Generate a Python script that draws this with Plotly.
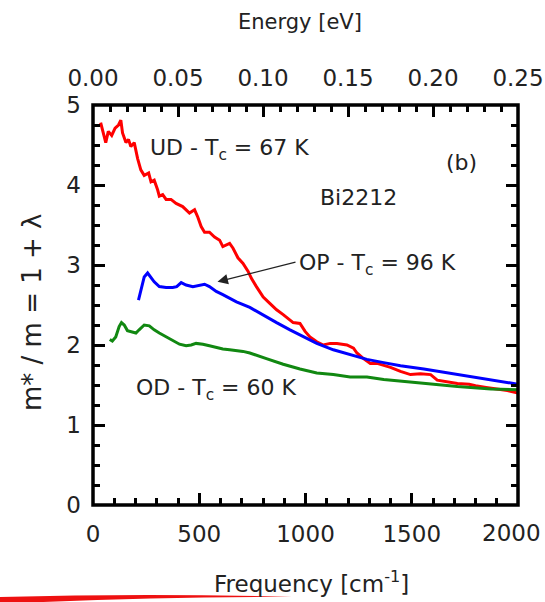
import plotly.graph_objects as go

# ---- data ----
ud_freq = [36, 60, 72, 88, 104, 120, 131, 139, 155, 167, 178, 194, 210, 225, 241, 262, 273, 288,
           304, 312, 328, 344, 367, 391, 422, 454, 478, 493, 509, 525, 548, 572, 596, 611, 643,
           659, 682, 706, 730, 746, 769, 801, 832, 864, 895, 942, 974, 998, 1021, 1053, 1084,
           1116, 1148, 1195, 1226, 1242, 1273, 1305, 1337, 1368, 1400, 1447, 1494, 1541, 1589,
           1620, 1660, 1715, 1770, 1800, 1850, 1900, 1950, 2000]
ud_mass = [4.78, 4.53, 4.67, 4.62, 4.71, 4.75, 4.81, 4.65, 4.53, 4.57, 4.48, 4.53, 4.33, 4.19,
           4.12, 4.15, 4.04, 4.06, 3.94, 3.86, 3.88, 3.82, 3.82, 3.77, 3.73, 3.65, 3.69, 3.60,
           3.48, 3.41, 3.41, 3.35, 3.31, 3.23, 3.27, 3.21, 3.09, 3.02, 2.92, 2.83, 2.73, 2.60,
           2.52, 2.44, 2.38, 2.28, 2.27, 2.17, 2.10, 2.04, 2.00, 2.02, 2.02, 2.00, 1.96, 1.90,
           1.83, 1.77, 1.77, 1.75, 1.72, 1.67, 1.63, 1.64, 1.63, 1.56, 1.54, 1.52, 1.51, 1.49,
           1.47, 1.45, 1.43, 1.40]

op_freq = [214, 225, 241, 257, 273, 288, 312, 344, 375, 394, 415, 438, 470, 501, 525, 548, 580,
           611, 675, 738, 801, 864, 927, 990, 1053, 1131, 1210, 1289, 1368, 1447, 1557, 1715,
           1872, 2000]
op_mass = [2.56, 2.69, 2.85, 2.90, 2.85, 2.79, 2.73, 2.72, 2.72, 2.73, 2.78, 2.75, 2.73, 2.75,
           2.76, 2.73, 2.67, 2.63, 2.54, 2.47, 2.37, 2.28, 2.19, 2.11, 2.02, 1.94, 1.88, 1.82,
           1.78, 1.74, 1.70, 1.63, 1.56, 1.51]

od_freq = [79, 91, 107, 123, 134, 147, 162, 178, 202, 217, 241, 265, 288, 312, 344, 375, 407,
           438, 462, 485, 517, 548, 580, 611, 643, 675, 706, 738, 769, 816, 895, 974, 1053, 1131,
           1210, 1289, 1368, 1447, 1557, 1715, 1872, 2000]
od_mass = [2.07, 2.05, 2.10, 2.23, 2.28, 2.25, 2.18, 2.17, 2.15, 2.19, 2.25, 2.24, 2.19, 2.15,
           2.10, 2.05, 2.01, 1.99, 2.00, 2.02, 2.01, 1.99, 1.97, 1.95, 1.94, 1.93, 1.92, 1.90,
           1.87, 1.83, 1.76, 1.70, 1.65, 1.63, 1.60, 1.60, 1.57, 1.55, 1.52, 1.48, 1.45, 1.44]

freq_ticks = [0, 500, 1000, 1500, 2000]
freq_ticktext = ["0", "500", "1000", "1500", ""]   # "2000" drawn separately (at the page edge)
freq_range = [0, 2000]
energy_range = [0, 0.25]
mass_range = [0, 5]

FONT = "DejaVu Sans, sans-serif"
INK = "#222"
fig = go.Figure()
fig.add_trace(go.Scatter(x=ud_freq, y=ud_mass, mode="lines",
                         line=dict(color="#ff0000", width=3), showlegend=False))
fig.add_trace(go.Scatter(x=op_freq, y=op_mass, mode="lines",
                         line=dict(color="#0000ff", width=3), showlegend=False))
fig.add_trace(go.Scatter(x=od_freq, y=od_mass, mode="lines",
                         line=dict(color="#118811", width=3), showlegend=False))
# invisible traces to activate the top energy axis and the right tick axis
fig.add_trace(go.Scatter(x=energy_range, y=[None, None], xaxis="x2", mode="lines",
                         showlegend=False, hoverinfo="skip"))
fig.add_trace(go.Scatter(x=[None, None], y=mass_range, yaxis="y2", mode="lines",
                         showlegend=False, hoverinfo="skip"))

axis_common = dict(ticks="inside", tickwidth=3, tickcolor="black", showline=False,
                   showgrid=False, zeroline=False, automargin=False,
                   tickfont=dict(family=FONT, size=23, color=INK))
minor_common = dict(ticklen=7, tickwidth=3, ticks="inside", tickcolor="black")

fig.update_layout(
    width=545, height=602,
    margin=dict(l=93, r=27, t=105, b=97),
    paper_bgcolor="white", plot_bgcolor="white",
    xaxis=dict(range=freq_range, tickvals=freq_ticks, ticktext=freq_ticktext, ticklen=12,
               ticklabelstandoff=13,
               minor=dict(dtick=100, **minor_common), **axis_common),
    xaxis2=dict(range=energy_range, dtick=0.05, tickformat=".2f", ticklen=12, overlaying="x",
                side="top", anchor="y", ticklabelstandoff=13,
                minor=dict(dtick=0.01, **minor_common), **axis_common),
    yaxis=dict(range=mass_range, dtick=1, ticklen=12, ticklabelstandoff=11,
               minor=dict(dtick=0.25, **minor_common), **axis_common),
    yaxis2=dict(range=mass_range, dtick=1, ticklen=12, overlaying="y", side="right",
                anchor="x", showticklabels=False,
                minor=dict(dtick=0.25, **minor_common), **axis_common),
)

# frame
fig.add_shape(type="rect", xref="paper", yref="paper", x0=0, x1=1, y0=0, y1=1,
              line=dict(color="black", width=3.5), layer="above")

# last bottom tick label, which sits right at the page edge
fig.add_annotation(x=1.0588, y=-0.07, xref="paper", yref="paper", text=str(freq_ticks[-1]),
                   showarrow=False, xanchor="right", yanchor="middle",
                   font=dict(family=FONT, size=23, color=INK))

# axis titles, placed in paper coordinates
title_font = dict(family=FONT, color=INK)
fig.add_annotation(x=0.487, y=1.2075, xref="paper", yref="paper", text="Energy [eV]",
                   showarrow=False, xanchor="center", yanchor="middle",
                   font=dict(size=21, **title_font))
fig.add_annotation(x=0.515, y=-0.1925, xref="paper", yref="paper",
                   text="Frequency [cm<sup>-1</sup>]",
                   showarrow=False, xanchor="center", yanchor="middle",
                   font=dict(size=23, **title_font))
fig.add_annotation(x=-0.1435, y=0.4825, xref="paper", yref="paper", text="m* / m = 1 + λ",
                   showarrow=False, xanchor="center", yanchor="middle", textangle=-90,
                   font=dict(size=26, **title_font))

txt = dict(family=FONT, size=22, color=INK)
fig.add_annotation(x=260, y=4.44, xref="x", yref="y", text="UD - T<sub>c</sub> = 67 K",
                   showarrow=False, xanchor="left", yanchor="middle", font=txt)
fig.add_annotation(x=1735, y=4.28, xref="x", yref="y", text="(b)",
                   showarrow=False, xanchor="center", yanchor="middle", font=txt)
fig.add_annotation(x=1248, y=3.85, xref="x", yref="y", text="Bi2212",
                   showarrow=False, xanchor="center", yanchor="middle", font=txt)
fig.add_annotation(x=960, y=3.01, xref="x", yref="y", text="OP - T<sub>c</sub> = 96 K",
                   showarrow=False, xanchor="left", yanchor="middle", font=txt)
fig.add_annotation(x=586, y=2.79, ax=960, ay=3.04, xref="x", yref="y", axref="x", ayref="y",
                   text="", showarrow=True, arrowhead=2, arrowsize=1.6, arrowwidth=1.3,
                   arrowcolor=INK)
fig.add_annotation(x=194, y=1.44, xref="x", yref="y", text="OD - T<sub>c</sub> = 60 K",
                   showarrow=False, xanchor="left", yanchor="middle", font=txt)

# decorative red brush stroke at the bottom of the slide
def px2paper(px, py):
    return (px - 93) / 425.0, (505 - py) / 400.0

p = [px2paper(*q) for q in [(0, 597), (150, 593), (292, 597), (150, 596.5), (0, 604)]]
path = ("M {0[0]:.4f},{0[1]:.4f} Q {1[0]:.4f},{1[1]:.4f} {2[0]:.4f},{2[1]:.4f} "
        "Q {3[0]:.4f},{3[1]:.4f} {4[0]:.4f},{4[1]:.4f} Z").format(*p)
fig.add_shape(type="path", path=path, xref="paper", yref="paper",
              fillcolor="#ee1111", line=dict(width=0))

fig.write_html("out.html")
